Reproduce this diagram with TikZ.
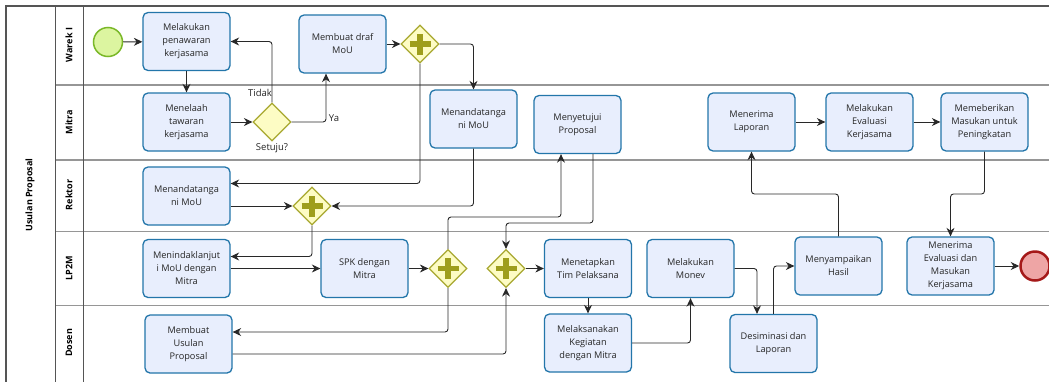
\documentclass[tikz,border=0pt]{standalone}
\usepackage{fontspec}
\setmainfont{Open Sans}
\usetikzlibrary{shapes.geometric,arrows.meta,calc}

\definecolor{taskfill}{RGB}{232,238,253}
\definecolor{taskline}{RGB}{35,118,170}
\definecolor{gwfill}{RGB}{253,252,196}
\definecolor{gwline}{RGB}{168,168,48}
\definecolor{gwplus}{RGB}{158,158,28}
\definecolor{startfill}{RGB}{220,245,160}
\definecolor{startline}{RGB}{122,184,40}
\definecolor{endfill}{RGB}{238,165,165}
\definecolor{endline}{RGB}{165,25,25}
\definecolor{poolline}{RGB}{85,85,85}
\definecolor{laneline}{RGB}{150,150,150}
\definecolor{flow}{RGB}{40,40,40}

\tikzset{
  task/.style={rectangle, rounded corners=5pt, draw=taskline, line width=1.3pt,
    fill=taskfill, minimum width=87pt, minimum height=58pt, inner sep=1pt,
    align=center, text=black!85, font=\fontsize{9.2}{13}\selectfont},
  gateway/.style={diamond, draw=gwline, line width=1.2pt, fill=gwfill,
    minimum width=38pt, minimum height=38pt, inner sep=0pt},
  andgate/.style={gateway, path picture={
      \draw[gwplus, line width=5.5pt]
        ([xshift=-10.5pt]path picture bounding box.center) --
        ([xshift=10.5pt]path picture bounding box.center)
        ([yshift=-10.5pt]path picture bounding box.center) --
        ([yshift=10.5pt]path picture bounding box.center);}},
  startev/.style={circle, draw=startline, line width=1.5pt, fill=startfill,
    minimum size=29pt, inner sep=0pt},
  endev/.style={circle, draw=endline, line width=2.5pt, fill=endfill,
    minimum size=29pt, inner sep=0pt},
  conn/.style={draw=flow, line width=0.9pt, rounded corners=3pt,
    -{Stealth[length=8.5pt,width=8pt]}},
  lanelabel/.style={rotate=90, font=\bfseries\fontsize{9}{10}\selectfont},
  flowlabel/.style={font=\fontsize{9.5}{11}\selectfont, text=black!85, inner sep=1pt},
}

\begin{document}
\begin{tikzpicture}[x=1pt, y=-1pt]
\useasboundingbox (0,0) rectangle (1049,381);
\fill[white] (0,0) rectangle (1049,381);
\clip (0,0) rectangle (1049,381);

% pool and lanes
\draw[laneline, line width=1.4pt] (55,85) -- (1060,85);
\draw[laneline, line width=1.4pt] (55,160) -- (1060,160);
\draw[laneline, line width=1.4pt] (55,231.5) -- (1060,231.5);
\draw[laneline, line width=1.4pt] (55,305.5) -- (1060,305.5);
\draw[poolline, line width=1pt] (83,6) -- (83,390);
\draw[poolline, line width=1pt] (55,6) -- (55,390);
\draw[poolline, line width=1.2pt] (1070,6) -- (6,6) -- (6,390);

\node[lanelabel] (poolname) at (30,195) {Usulan Proposal};
\node[lanelabel] (lwarek) at (69,45) {Warek I};
\node[lanelabel] (lmitra) at (69,122) {Mitra};
\node[lanelabel] (lrektor) at (69,195) {Rektor};
\node[lanelabel] (llppm) at (69,268) {LP2M};
\node[lanelabel] (ldosen) at (69,343) {Dosen};

% events
\node[startev] (start) at (108,42) {};
\node[endev] (finish) at (1035,266) {};

% tasks
\node[task] (offer) at (186.5,41.5) {Melakukan\\penawaran\\kerjasama};
\node[task] (review) at (186.5,122) {Menelaah\\tawaran\\kerjasama};
\node[task] (draft) at (342.5,44) {Membuat draf\\MoU};
\node[task] (signM) at (473.5,119) {Menandatanga\\ni MoU};
\node[task] (approve) at (577.5,124.5) {Menyetujui\\Proposal};
\node[task] (recv) at (751.5,122) {Menerima\\Laporan};
\node[task] (evalk) at (869.5,122) {Melakukan\\Evaluasi\\Kerjasama};
\node[task] (give) at (984.5,122) {Memeberikan\\Masukan untuk\\Peningkatan};
\node[task] (signR) at (186.5,196) {Menandatanga\\ni MoU};
\node[task] (follow) at (186.5,268.5) {Menindaklanjut\\i MoU dengan\\Mitra};
\node[task] (spk) at (364.5,268.5) {SPK dengan\\Mitra};
\node[task] (tim) at (588,268.5) {Menetapkan\\Tim Pelaksana};
\node[task] (monev) at (690.5,268.5) {Melakukan\\Monev};
\node[task] (hasil) at (838.5,266) {Menyampaikan\\Hasil};
\node[task] (terima) at (950.5,266) {Menerima\\Evaluasi dan\\Masukan\\Kerjasama};
\node[task] (usulan) at (188.5,344) {Membuat\\Usulan\\Proposal};
\node[task] (kegiatan) at (588,343) {Melaksanakan\\Kegiatan\\dengan Mitra};
\node[task] (desim) at (773.5,343.5) {Desiminasi dan\\Laporan};

% gateways
\node[gateway] (setuju) at (272,122) {};
\node[andgate] (g1) at (420,44) {};
\node[andgate] (gR) at (312,206) {};
\node[andgate] (gL1) at (448,268.5) {};
\node[andgate] (gL2) at (506,268.5) {};

% labels on the decision
\node[flowlabel] (tidak) at (260,93) {Tidak};
\node[flowlabel] (setujulbl) at (272,148) {Setuju?};
\node[flowlabel] (ya) at (334,118) {Ya};

% sequence flows
\draw[conn] (start) -- (offer);
\draw[conn] (offer) -- (review);
\draw[conn] (review) -- (setuju);
\draw[conn] (setuju.north) |- (offer.east);
\draw[conn] (setuju.east) -| ([xshift=-16.5pt]draft.south);
\draw[conn] (draft.east) -- (g1.west);
\draw[conn] (g1.east) -| (signM.north);
\draw[conn] (g1.south) |- ([yshift=12.5pt]signR.east);
\draw[conn] (signM.south) |- (gR.east);
\draw[conn] (signR.east |- gR.west) -- (gR.west);
\draw[conn] (gR.south) |- ([yshift=12pt]follow.east);
\draw[conn] (follow.east) -- (spk.west);
\draw[conn] (spk.east) -- (gL1.west);
\draw[conn] (gL1.north) |- (561,217) -- ([xshift=-16.5pt]approve.south);
\draw[conn] (gL1.south) |- ([yshift=12pt]usulan.east);
\draw[conn] ([xshift=15.5pt]approve.south) |- (506,223) -- (gL2.north);
\draw[conn] ([yshift=-10pt]usulan.east) -| (gL2.south);
\draw[conn] (gL2.east) -- (tim.west);
\draw[conn] (tim.south) -- (kegiatan.north);
\draw[conn] (kegiatan.east) -| (monev.south);
\draw[conn] (monev.east) -| ([xshift=-16.5pt]desim.north);
\draw[conn] (desim.north) |- (hasil.west);
\draw[conn] (hasil.north) |- (751.5,194) -- (recv.south);
\draw[conn] (recv.east) -- (evalk.west);
\draw[conn] (evalk.east) -- (give.west);
\draw[conn] (give.south) |- (950.5,194) -- (terima.north);
\draw[conn] (terima.east) -- (finish.west);
\end{tikzpicture}
\end{document}
